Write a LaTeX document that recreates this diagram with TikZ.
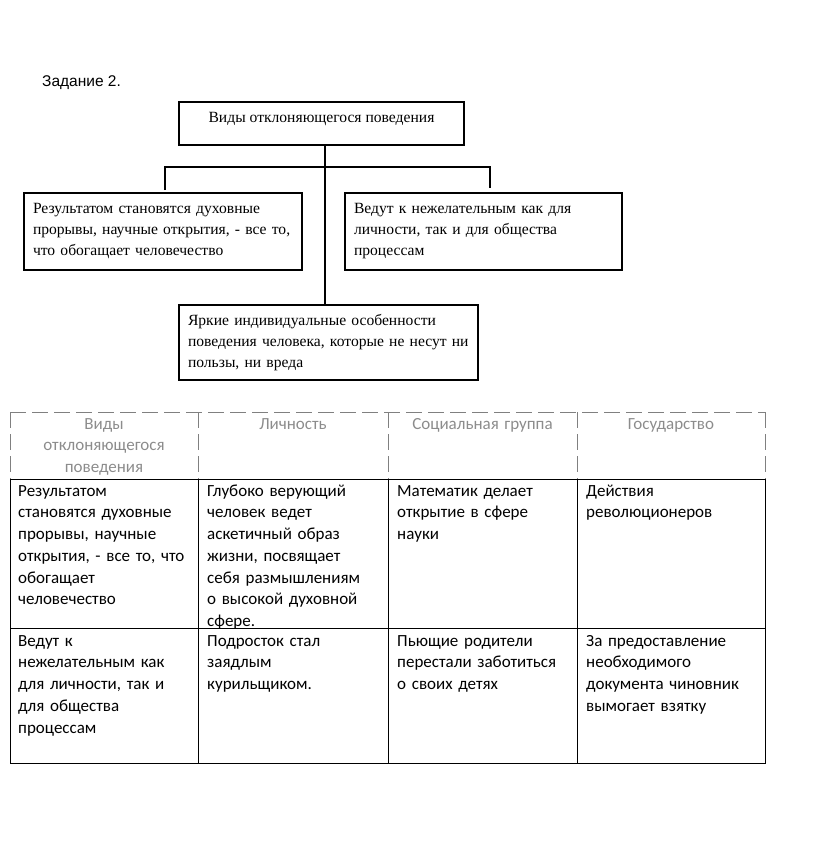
\documentclass[tikz,border=0pt]{standalone}
\usepackage{fontspec}
\setmainfont{Liberation Serif}
\newfontfamily\cellfont{Carlito}
\newfontfamily\taskfont{Liberation Sans}
\usetikzlibrary{positioning}

\begin{document}
\begin{tikzpicture}[
		x=1pt, y=-1pt,
		box/.style={rectangle, draw=black, line width=1.2pt, text width=#1, align=left, inner xsep=9pt, font=\fontsize{15.6}{21}\selectfont},
		cell/.style={anchor=north west, inner sep=0pt, text width=184pt, align=left, text height=12pt, font=\cellfont\fontsize{17}{21.7}\selectfont},
		head/.style={anchor=north, inner sep=0pt, text width=184pt, align=center, text height=12pt, text=black!45, font=\cellfont\fontsize{17}{21.7}\selectfont},
		grid/.style={line width=1pt},
		faint/.style={line width=1pt, black!50, dash pattern=on 16pt off 6pt}
		]
		\useasboundingbox (0,0) rectangle (823,861);
		
		\node (task) at (42,83) [anchor=west, inner sep=0pt, font=\taskfont\fontsize{15.5}{17}\selectfont] {Задание 2.};
		
		\node (kinds) at (321.5,123.5) [rectangle, draw=black, line width=1.2pt, minimum width=285pt, minimum height=43pt, text depth=12pt, font=\fontsize{15.6}{21}\selectfont] {Виды отклоняющегося поведения};
		\node (good) at (163,231.5) [box=260pt, minimum height=77pt] {Результатом становятся духовные\\прорывы, научные открытия, - все то,\\что обогащает человечество};
		\node (bad) at (483.5,231.5) [box=259pt, minimum height=77pt] {Ведут к нежелательным как для\\личности, так и для общества\\процессам};
		\node (bright) at (328.5,342.5) [box=281pt, minimum height=75pt] {Яркие индивидуальные особенности\\поведения человека, которые не несут ни\\пользы, ни вреда};
		
		\coordinate (fork) at (325,167);
		\coordinate (lend) at (165,190);
		\coordinate (rend) at (490,188);
		\draw [line width=1.2pt] (kinds.south -| fork) -- (bright.north -| fork);
		\draw [line width=1.2pt] (lend) |- (fork) -| (rend);
		
		% table
		\draw [faint] (10,412) -- (765,412);
		\draw [faint] (10,479) -- (765,479);
		\foreach \x in {10,198,388,577,765}
			\draw [faint] (\x,412) -- (\x,479);
		\draw [grid] (10,479) rectangle (765,763);
		\draw [grid] (10,628) -- (765,628);
		\foreach \x in {198,388,577}
			\draw [grid] (\x,479) -- (\x,763);
		
		\node (h1) at (104,417) [head] {Виды\\отклоняющегося\\поведения};
		\node (h2) at (293,417) [head] {Личность};
		\node (h3) at (482.5,417) [head] {Социальная группа};
		\node (h4) at (671,417) [head] {Государство};
		
		\node (c11) at (18,484) [cell] {Результатом\\становятся духовные\\прорывы, научные\\открытия, - все то, что\\обогащает\\человечество};
		\node (c12) at (207,484) [cell] {Глубоко верующий\\человек ведет\\аскетичный образ\\жизни, посвящает\\себя размышлениям\\о высокой духовной\\сфере.};
		\node (c13) at (397,484) [cell] {Математик делает\\открытие в сфере\\науки};
		\node (c14) at (586,484) [cell] {Действия\\революционеров};
		
		\node (c21) at (18,634) [cell] {Ведут к\\нежелательным как\\для личности, так и\\для общества\\процессам};
		\node (c22) at (207,634) [cell] {Подросток стал\\заядлым\\курильщиком.};
		\node (c23) at (397,634) [cell] {Пьющие родители\\перестали заботиться\\о своих детях};
		\node (c24) at (586,634) [cell] {За предоставление\\необходимого\\документа чиновник\\вымогает взятку};
	\end{tikzpicture}
\end{document}
